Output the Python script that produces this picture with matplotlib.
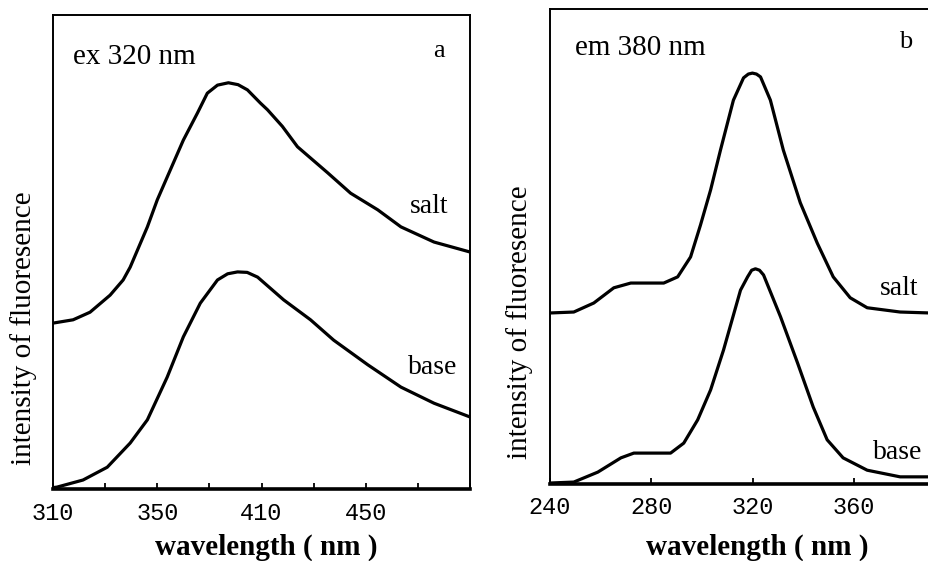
import matplotlib
matplotlib.use("Agg")
import matplotlib.pyplot as plt

# panel a: excitation at 320 nm, emission spectra
wl_a_salt = [310, 317.7, 324.2, 331.9, 336.9, 339.6, 346.2, 350.0, 353.8, 360.0, 365.4,
             369.2, 373.1, 377.3, 381.0, 384.6, 389.6, 392.3, 398.0, 403.8, 415.4, 424.2,
             434.6, 443.5, 456.2, 470.0]
int_a_salt = [35.0, 35.7, 37.3, 40.9, 44.1, 46.8, 55.3, 61.0, 65.8, 73.6, 79.3,
              83.5, 85.2, 85.7, 85.3, 84.2, 81.4, 80.0, 76.5, 72.2, 66.7, 62.4,
              58.9, 55.3, 52.1, 50.0]
wl_a_base = [310, 311.5, 321.5, 330.8, 339.6, 346.2, 353.8, 360.0, 366.5, 373.1, 377.0,
             380.8, 384.5, 388.5, 398.5, 408.8, 417.7, 430.8, 443.5, 456.2, 470.0]
int_a_base = [0.3, 0.4, 1.9, 4.6, 9.7, 14.6, 23.6, 32.1, 39.2, 44.1, 45.4,
              45.8, 45.7, 44.7, 39.9, 35.7, 31.4, 26.2, 21.5, 18.1, 15.2]

# panel b: emission at 380 nm, excitation spectra
wl_b_salt = [240, 249.4, 257.3, 265.2, 271.9, 284.9, 290.4, 295.5, 299.4, 303.4, 307.3,
             312.4, 316.4, 318.3, 319.9, 321.5, 323.1, 327.0, 332.1, 338.8, 345.5, 351.8,
             358.5, 365.2, 378.2, 390.0]
int_b_salt = [36.0, 36.2, 38.1, 41.3, 42.3, 42.3, 43.6, 47.8, 54.5, 61.9, 70.3,
              80.8, 85.5, 86.3, 86.5, 86.3, 85.7, 80.8, 70.3, 59.2, 50.7, 43.6,
              39.2, 37.1, 36.2, 36.0]
wl_b_base = [240, 249.4, 258.9, 268.0, 273.1, 287.6, 292.8, 298.3, 303.4, 308.5, 315.2,
             318.0, 319.6, 321.1, 322.7, 324.3, 331.0, 337.7, 343.9, 349.4, 355.7, 365.2,
             378.2, 390.0]
int_b_base = [0.2, 0.4, 2.5, 5.5, 6.5, 6.5, 8.6, 13.5, 19.8, 28.2, 40.8,
              43.6, 45.0, 45.3, 45.0, 44.0, 35.2, 25.5, 16.2, 9.3, 5.5, 2.9,
              1.5, 1.5]

label_pos_a = [310, 350, 390, 430]
label_txt_a = ["310", "350", "410", "450"]
other_ticks_a = [330, 370, 410, 450, 470]
ticks_b = [240, 280, 320, 360]
label_txt_b = ["240", "280", "320", "360"]

serif = "Liberation Serif"
mono = "Liberation Mono"

fig = plt.figure(figsize=(9.29, 5.61), dpi=100)
ax_a = fig.add_axes([0.0571, 0.1283, 0.4488, 0.8450])
ax_b = fig.add_axes([0.5920, 0.1373, 0.4080, 0.8467])

for ax in (ax_a, ax_b):
    ax.set_yticks([])
    for side in ("left", "top", "right"):
        ax.spines[side].set_linewidth(1.4)
    ax.spines["bottom"].set_linewidth(2.6)
    ax.tick_params(axis="x", which="both", direction="in", length=4, width=1.3,
                   pad=9, labelsize=17)
    ax.set_ylim(0, 100)

# panel a
ax_a.plot(wl_a_salt, int_a_salt, color="black", lw=2.3)
ax_a.plot(wl_a_base, int_a_base, color="black", lw=2.3)
ax_a.set_xlim(310, 470)
ax_a.set_xticks(label_pos_a)
ax_a.set_xticklabels(label_txt_a, fontfamily=mono, fontsize=17)
ax_a.set_xticks(other_ticks_a, minor=True)
ax_a.text(0.048, 0.912, "ex 320 nm", transform=ax_a.transAxes, fontsize=21,
          fontfamily=serif, va="center")
ax_a.text(0.925, 0.925, "a", transform=ax_a.transAxes, fontsize=19,
          fontfamily=serif, va="center", ha="center")
ax_a.text(0.855, 0.595, "salt", transform=ax_a.transAxes, fontsize=20,
          fontfamily=serif, va="center")
ax_a.text(0.852, 0.256, "base", transform=ax_a.transAxes, fontsize=20,
          fontfamily=serif, va="center")
ax_a.set_xlabel("wavelength ( nm )", fontsize=21, fontfamily=serif,
                fontweight="bold")
ax_a.xaxis.set_label_coords(0.511, -0.095)
ax_a.set_ylabel("intensity of fluoresence", fontsize=21, fontfamily=serif)
ax_a.yaxis.set_label_coords(-0.038, 0.34)

# panel b
ax_b.plot(wl_b_salt, int_b_salt, color="black", lw=2.3)
ax_b.plot(wl_b_base, int_b_base, color="black", lw=2.3)
ax_b.set_xlim(240, 389.6)
ax_b.spines["right"].set_visible(False)
ax_b.set_xticks(ticks_b)
ax_b.set_xticklabels(label_txt_b, fontfamily=mono, fontsize=17)
ax_b.text(0.066, 0.918, "em 380 nm", transform=ax_b.transAxes, fontsize=21,
          fontfamily=serif, va="center")
ax_b.text(0.938, 0.93, "b", transform=ax_b.transAxes, fontsize=19,
          fontfamily=serif, va="center", ha="center")
ax_b.text(0.87, 0.412, "salt", transform=ax_b.transAxes, fontsize=20,
          fontfamily=serif, va="center")
ax_b.text(0.852, 0.067, "base", transform=ax_b.transAxes, fontsize=20,
          fontfamily=serif, va="center")
ax_b.set_xlabel("wavelength ( nm )", fontsize=21, fontfamily=serif,
                fontweight="bold")
ax_b.xaxis.set_label_coords(0.546, -0.105)
ax_b.set_ylabel("intensity of fluoresence", fontsize=21, fontfamily=serif)
ax_b.yaxis.set_label_coords(-0.045, 0.341)

fig.savefig("out.png", dpi=100)
